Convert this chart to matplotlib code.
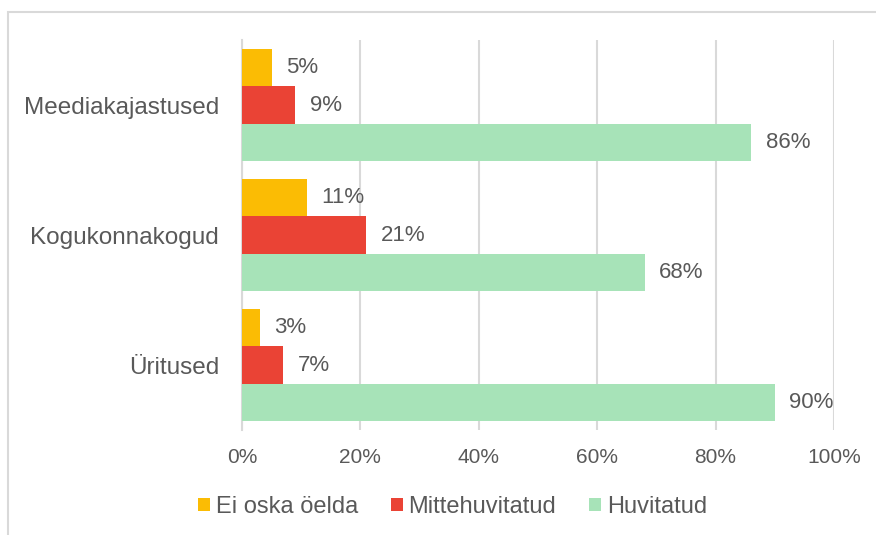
import numpy as np
import matplotlib as mpl
mpl.use('Agg')
import matplotlib.pyplot as plt
from matplotlib.patches import Rectangle

categories = ['Meediakajastused', 'Kogukonnakogud', 'Üritused']
series_names = ['Ei oska öelda', 'Mittehuvitatud', 'Huvitatud']
ei_oska = [5, 11, 3]
mittehuvitatud = [9, 21, 7]
huvitatud = [86, 68, 90]
xticks = [0, 20, 40, 60, 80, 100]

colors = ['#FBBC04', '#EA4335', '#A7E3B8']
text_color = '#595959'
grid_color = '#D9D9D9'

plt.rcParams['font.family'] = ['Liberation Sans', 'DejaVu Sans']

fig = plt.figure(figsize=(8.76, 5.35), dpi=100)
W, H = 876, 535
ax = fig.add_axes([242 / W, 1 - 430 / H, (834 - 242) / W, (430 - 40) / H])

# outer chart border (cut off at right and bottom)
fig.patches.append(Rectangle((8 / W, -0.1), 1.2, 1.1 - 12 / H,
                             transform=fig.transFigure, fill=False,
                             edgecolor=grid_color, linewidth=1.5))

data = [ei_oska, mittehuvitatud, huvitatud]
n = len(categories)
bh = 0.285
ypos = np.arange(n)
for i, (vals, name, col) in enumerate(zip(data, series_names, colors)):
    y = ypos + (i - 1) * bh
    ax.barh(y, vals, height=bh, color=col, label=name, zorder=3)
    for yy, v in zip(y, vals):
        ax.annotate(f'{v}%', xy=(v, yy), xytext=(10.5, 0), textcoords='offset points',
                    ha='left', va='center', fontsize=16, color=text_color)

ax.set_ylim(n - 0.5, -0.5)
ax.set_xlim(0, 100)
ax.set_xticks(xticks)
ax.set_xticklabels([f'{t}%' for t in xticks])
ax.set_yticks(ypos)
ax.set_yticklabels(categories)
ax.tick_params(axis='both', length=0, labelcolor=text_color)
ax.tick_params(axis='x', pad=13, labelsize=15)
ax.tick_params(axis='y', pad=16.5, labelsize=17.5)
ax.xaxis.grid(True, color=grid_color, linewidth=1.5, zorder=0)
for s in ['top', 'right', 'bottom']:
    ax.spines[s].set_visible(False)
ax.spines['left'].set_color(grid_color)
ax.spines['left'].set_linewidth(1.5)
ax.set_axisbelow(True)

fig.legend(loc='center', bbox_to_anchor=(452.5 / W, 1 - 507 / H), ncol=3, frameon=False,
           fontsize=17, labelcolor=text_color, handlelength=0.5, handleheight=0.5,
           handletextpad=0.25, columnspacing=1.4, borderpad=0)

fig.savefig('out.png', dpi=100)
